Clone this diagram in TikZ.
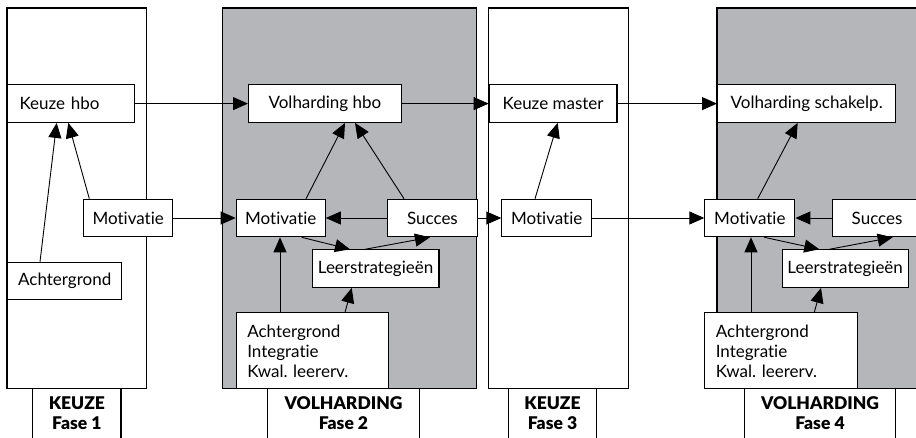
\documentclass[tikz,border=0pt]{standalone}
\usepackage{fontspec}
\setmainfont{Lato}[Ligatures=NoCommon, BoldFont={Lato Black}]
\usetikzlibrary{arrows.meta}

\definecolor{fasegrijs}{RGB}{181,182,186}

\begin{document}
\begin{tikzpicture}[x=1pt,y=-1pt]
\tikzstyle{fase-vlak}=[draw, line width=1.1pt]
\tikzstyle{fase-label}=[font=\fontsize{17.5}{20}\selectfont\bfseries, align=center]
\tikzstyle{blok}=
[
	draw, fill=white, rectangle, line width=1.1pt,
	anchor=north west, minimum height=37.5pt, inner sep=0pt,
	font=\fontsize{17}{20}\selectfont
]
\tikzstyle{blok-lijst}=[blok, minimum height=76pt, inner xsep=11pt, text width=130pt, align=left]
\tikzstyle{pijl}=[-{Triangle[length=15pt,width=13pt]}, line width=0.9pt]

\clip (0,0) rectangle (916,437);

% vier fasen
\draw[fase-vlak, fill=white] (7,8) rectangle (146.7,388.3);
\draw[fase-vlak, fill=fasegrijs] (222.7,8) rectangle (476.7,388.3);
\draw[fase-vlak, fill=white] (488.5,8) rectangle (628.3,388.3);
\draw[fase-vlak, fill=fasegrijs] (717,8) rectangle (930,388.3);

\foreach \xl/\xr/\tekst in {32.7/121/{KEUZE\\Fase 1}, 267.7/419.3/{VOLHARDING\\Fase 2},
	508.3/596.7/{KEUZE\\Fase 3}, 744.3/895.7/{VOLHARDING\\Fase 4}}
{
	\draw[fase-vlak] (\xl,445) |- (\xr,388.3) -- (\xr,445);
	\node[fase-label] at ({(\xl+\xr)/2},413.5) {\tekst};
}

% fase 1
\node[blok, inner xsep=12pt, text width=103.3pt, align=left] (keuzehbo) at (7,84.3) {Keuze hbo};
\node[blok, minimum width=89.3pt] (mot1) at (83,198.7) {Motivatie};
\node[blok, minimum width=114.3pt] (acht1) at (7,261.7) {Achtergrond};

% fase 2
\node[blok, minimum width=152.7pt] (volhbo) at (248,84.3) {Volharding hbo};
\node[blok, minimum width=89pt] (mot2) at (235.7,198.7) {Motivatie};
\node[blok, minimum width=89.7pt] (succ2) at (387,198.7) {Succes};
\node[blok, minimum width=126.7pt] (leer2) at (311.7,249.3) {Leerstrategieën};
\node[blok-lijst] (acht2) at (235.7,312.3) {Achtergrond\\Integratie\\Kwal.\ leererv.};

% fase 3
\node[blok, minimum width=127.7pt] (keuzem) at (488.7,84.3) {Keuze master};
\node[blok, minimum width=89.7pt] (mot3) at (501.3,198.7) {Motivatie};

% fase 4
\node[blok, minimum width=178.3pt] (volsch) at (717,84.3) {Volharding schakelp.};
\node[blok, minimum width=90pt] (mot4) at (704.3,198.7) {Motivatie};
\node[blok, minimum width=89.7pt] (succ4) at (831.7,198.7) {Succes};
\node[blok, minimum width=126.3pt] (leer4) at (781.5,249.3) {Leerstrategieën};
\node[blok-lijst, text width=130.7pt] (acht4) at (704.3,312.3) {Achtergrond\\Integratie\\Kwal.\ leererv.};

% pijlen
\draw[pijl] (keuzehbo) -- (volhbo);
\draw[pijl] (volhbo) -- (keuzem);
\draw[pijl] (keuzem) -- (volsch);
\draw[pijl] (mot1) -- (mot2);
\draw[pijl] (succ2) -- (mot2);
\draw[pijl] (succ2) -- (mot3);
\draw[pijl] (mot3) -- (mot4);
\draw[pijl] (succ4) -- (mot4);

\draw[pijl] ([xshift=33pt]acht1.north west) -- ([xshift=49.7pt]keuzehbo.south west);
\draw[pijl] ([xshift=6.3pt]mot1.north west) -- ([xshift=61.3pt]keuzehbo.south west);

\draw[pijl] ([xshift=70.3pt]mot2.north west) -- ([xshift=97pt]volhbo.south west);
\draw[pijl] ([xshift=17pt]succ2.north west) -- ([xshift=107pt]volhbo.south west);
\draw[pijl] ([xshift=66pt]mot2.south west) -- ([xshift=38.3pt]leer2.north west);
\draw[pijl] ([xshift=53.3pt]leer2.north west) -- ([xshift=43pt]succ2.south west);
\draw[pijl] ([xshift=44.3pt]acht2.north west) -- ([xshift=44.3pt]mot2.south west);
\draw[pijl] ([xshift=109.3pt]acht2.north west) -- ([xshift=40pt]leer2.south west);

\draw[pijl] ([xshift=33.7pt]mot3.north west) -- ([xshift=69pt]keuzem.south west);

\draw[pijl] ([xshift=53.4pt]mot4.north west) -- ([xshift=80.7pt]volsch.south west);
\draw[pijl] ([xshift=60pt]mot4.south west) -- ([xshift=37.8pt]leer4.north west);
\draw[pijl] ([xshift=47.8pt]leer4.north west) -- ([xshift=61pt]succ4.south west);
\draw[pijl] ([xshift=46.7pt]acht4.north west) -- ([xshift=46.7pt]mot4.south west);
\draw[pijl] ([xshift=110pt]acht4.north west) -- ([xshift=39.5pt]leer4.south west);
\end{tikzpicture}
\end{document}
